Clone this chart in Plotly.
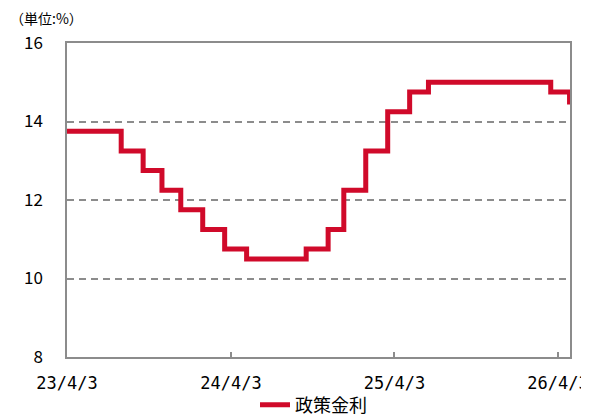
import plotly.graph_objects as go

# Policy rate (step changes), date of change and new rate
change_dates = ["2023-04-03", "2023-08-02", "2023-09-20", "2023-11-01", "2023-12-13",
                "2024-01-31", "2024-03-20", "2024-05-08", "2024-09-18", "2024-11-06",
                "2024-12-11", "2025-01-29", "2025-03-19", "2025-05-07", "2025-06-18",
                "2026-03-18", "2026-04-29", "2026-04-30"]
rates = [13.75, 13.25, 12.75, 12.25, 11.75,
         11.25, 10.75, 10.50, 10.75, 11.25,
         12.25, 13.25, 14.25, 14.75, 15.00,
         14.75, 14.50, 14.50]

series_name = "政策金利"
x_tick_dates = ["2023-04-03", "2024-04-03", "2025-04-03", "2026-04-03"]
x_tick_labels = ["23/4/3", "24/4/3", "25/4/3", "26/4/3"]
y_ticks = [8, 10, 12, 14, 16]
unit_label = "（単位:%）"

FONT = "Noto Sans CJK JP"
MONO = "DejaVu Sans Mono"
GRAY = "#8c8c8c"
RED = "#D00A2A"

# The page body has an 8px default margin, so the figure is drawn 8px in from the window edge.
W, H = 581, 408
L, T, R, B = 59, 35, 19, 59
PW, PH = W - L - R, H - T - B

fig = go.Figure()
fig.add_trace(go.Scatter(
    x=change_dates, y=rates, mode="lines", name=series_name,
    line=dict(color=RED, width=5, shape="hv"),
    showlegend=True,
))

fig.update_layout(
    width=W, height=H,
    margin=dict(l=L, r=R, t=T, b=B, autoexpand=False),
    paper_bgcolor="white", plot_bgcolor="white",
    font=dict(family=FONT, size=17, color="#000000"),
    showlegend=True,
    legend=dict(orientation="h", xref="paper", yref="paper",
                x=(247 - L) / PW, xanchor="left",
                y=(H - B - 397) / PH, yanchor="middle",
                font=dict(family=FONT, size=18),
                bgcolor="rgba(0,0,0,0)"),
    xaxis=dict(
        type="date", range=["2023-04-03", "2026-04-30"],
        tickvals=x_tick_dates, ticktext=x_tick_labels,
        ticks="inside", ticklen=5, tickcolor=GRAY, tickwidth=1.5,
        showgrid=False, showline=True, mirror=True,
        linecolor=GRAY, linewidth=1.5, zeroline=False,
        tickfont=dict(family=MONO, size=17),
        ticklabelstandoff=10,
        automargin=False,
    ),
    yaxis=dict(
        range=[8, 16], tickvals=y_ticks,
        ticks="", showgrid=True, gridcolor=GRAY, gridwidth=1.5,
        griddash="7px,5px",
        showline=True, mirror=True, linecolor=GRAY, linewidth=1.5,
        zeroline=False,
        tickfont=dict(family=FONT, size=17),
        ticklabelstandoff=19,
        automargin=False,
    ),
)

fig.add_annotation(
    text=unit_label, xref="paper", yref="paper",
    x=(0 - L) / PW, y=(H - B - 10) / PH,
    xanchor="left", yanchor="middle", showarrow=False,
    font=dict(family=FONT, size=14),
)

fig.write_html("out.html")
